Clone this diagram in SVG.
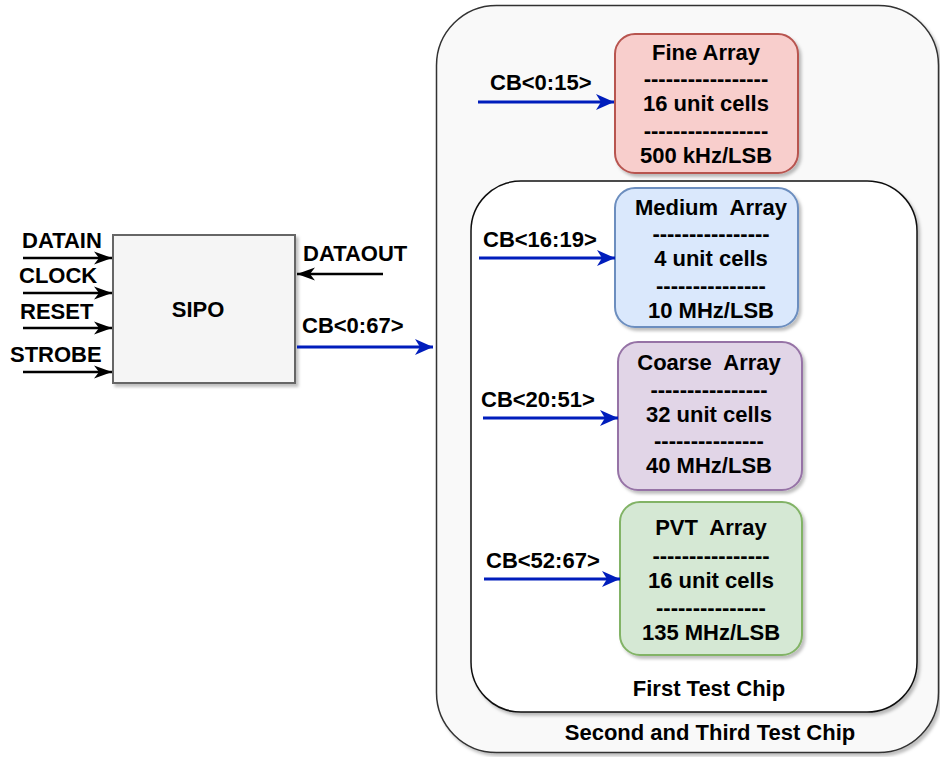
<svg xmlns="http://www.w3.org/2000/svg" width="940" height="757" viewBox="0 0 940 757">
<style>
text{font-family:"Liberation Sans",Arial,sans-serif;font-weight:bold;font-size:22px;fill:#000;white-space:pre}
.c{text-anchor:middle}
.blk{stroke:#000;stroke-width:2.6;fill:none}
.blu{stroke:#001DBC;stroke-width:2.8;fill:none}
</style>
<defs>
<filter id="sh" x="-10%" y="-10%" width="120%" height="120%">
<feDropShadow dx="2.5" dy="3" stdDeviation="1.5" flood-color="#000" flood-opacity="0.25"/>
</filter>
<marker id="ab" markerUnits="userSpaceOnUse" markerWidth="20" markerHeight="16" refX="18" refY="8" orient="auto" viewBox="0 0 20 16">
<path d="M0,1.5 L18,8 L0,14.5 L5,8 Z" fill="#000"/>
</marker>
<marker id="au" markerUnits="userSpaceOnUse" markerWidth="20" markerHeight="18" refX="18" refY="9" orient="auto" viewBox="0 0 20 18">
<path d="M0,1 L18,9 L0,17 L5,9 Z" fill="#001DBC"/>
</marker>
</defs>
<rect width="940" height="757" fill="#fff"/>

<g id="chip2">
<rect x="436.5" y="5.5" width="502" height="747" rx="60" fill="#f9f9f9" stroke="#333" stroke-width="1.5" filter="url(#sh)"/>
<text class="c" x="710" y="740">Second and Third Test Chip</text>
</g>
<g id="chip1">
<rect x="471" y="181" width="446" height="531" rx="50" fill="#fff" stroke="#111" stroke-width="1.5" filter="url(#sh)"/>
<text class="c" x="709" y="696">First Test Chip</text>
</g>

<g id="sipo">
<rect x="113" y="235" width="182" height="148" fill="#f5f5f5" stroke="#666" stroke-width="2" filter="url(#sh)"/>
<text class="c" x="198" y="317">SIPO</text>
</g>

<g id="fine">
<rect x="615" y="34" width="183" height="139" rx="20" fill="#f8cecc" stroke="#b85450" stroke-width="2" filter="url(#sh)"/>
<text class="c" x="706" y="60">Fine Array</text>
<text class="c" x="706" y="86">-----------------</text>
<text class="c" x="706" y="111">16 unit cells</text>
<text class="c" x="706" y="138">-----------------</text>
<text class="c" x="706" y="163">500 kHz/LSB</text>
</g>

<g id="medium">
<rect x="615" y="188" width="183" height="139" rx="20" fill="#dae8fc" stroke="#6c8ebf" stroke-width="2" filter="url(#sh)"/>
<text class="c" x="711" y="215">Medium  Array</text>
<text class="c" x="711" y="241">----------------</text>
<text class="c" x="711" y="266">4 unit cells</text>
<text class="c" x="711" y="293">---------------</text>
<text class="c" x="711" y="318">10 MHz/LSB</text>
</g>

<g id="coarse">
<rect x="618" y="342" width="184" height="148" rx="20" fill="#e1d5e7" stroke="#9673a6" stroke-width="2" filter="url(#sh)"/>
<text class="c" x="709" y="370">Coarse  Array</text>
<text class="c" x="709" y="397">----------------</text>
<text class="c" x="709" y="422">32 unit cells</text>
<text class="c" x="709" y="448">---------------</text>
<text class="c" x="709" y="473">40 MHz/LSB</text>
</g>

<g id="pvt">
<rect x="620" y="502" width="182" height="153" rx="20" fill="#d5e8d4" stroke="#82b366" stroke-width="2" filter="url(#sh)"/>
<text class="c" x="711" y="535">PVT  Array</text>
<text class="c" x="711" y="563">----------------</text>
<text class="c" x="711" y="588">16 unit cells</text>
<text class="c" x="711" y="615">---------------</text>
<text class="c" x="711" y="640">135 MHz/LSB</text>
</g>

<g id="connectors">
<line class="blk" x1="23" y1="258" x2="112" y2="258" marker-end="url(#ab)"/>
<line class="blk" x1="23" y1="293" x2="112" y2="293" marker-end="url(#ab)"/>
<line class="blk" x1="23" y1="328" x2="112" y2="328" marker-end="url(#ab)"/>
<line class="blk" x1="23" y1="372" x2="112" y2="372" marker-end="url(#ab)"/>
<line class="blk" x1="383" y1="274" x2="297" y2="274" marker-end="url(#ab)"/>
<line class="blu" x1="297" y1="347" x2="433" y2="347" marker-end="url(#au)"/>
<line class="blu" x1="478" y1="102" x2="614" y2="102" marker-end="url(#au)"/>
<line class="blu" x1="479" y1="258" x2="615" y2="258" marker-end="url(#au)"/>
<line class="blu" x1="483" y1="418" x2="618" y2="418" marker-end="url(#au)"/>
<line class="blu" x1="484" y1="579" x2="620" y2="579" marker-end="url(#au)"/>
<text x="22" y="248">DATAIN</text>
<text x="19" y="283">CLOCK</text>
<text x="20" y="319">RESET</text>
<text x="10" y="362">STROBE</text>
<text x="303" y="261">DATAOUT</text>
<text x="302" y="333">CB&lt;0:67&gt;</text>
<text x="490" y="90">CB&lt;0:15&gt;</text>
<text x="483" y="247">CB&lt;16:19&gt;</text>
<text x="481" y="407">CB&lt;20:51&gt;</text>
<text x="486" y="568">CB&lt;52:67&gt;</text>
</g>
</svg>
